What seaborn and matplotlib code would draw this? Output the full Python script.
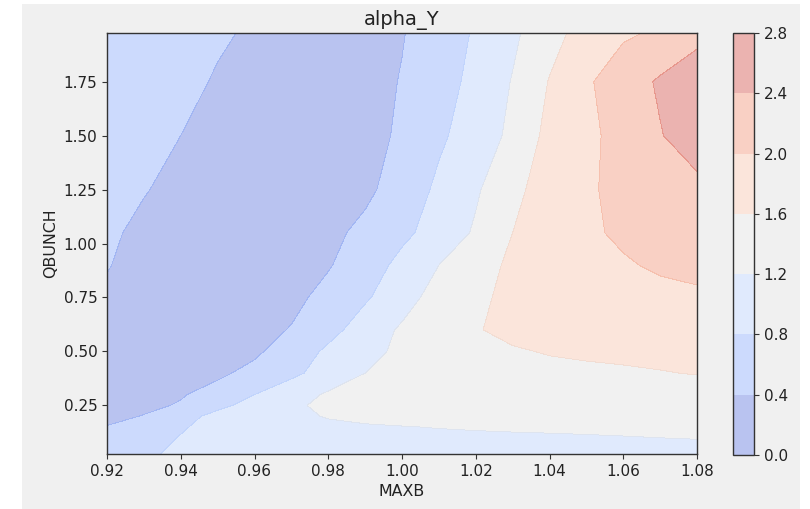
import numpy as np
import pandas as pd
import matplotlib
matplotlib.use("Agg")
import matplotlib.pyplot as plt
import seaborn as sns
from matplotlib.patches import Rectangle

# ---- data ----
maxb = [0.92, 0.93, 0.94, 0.95, 0.96, 0.97, 0.98, 0.99, 1.00,
        1.01, 1.02, 1.03, 1.04, 1.05, 1.06, 1.07, 1.08]
qbunch = [0.025, 0.1, 0.15, 0.2, 0.25, 0.3, 0.4, 0.5, 0.6, 0.75, 0.9, 1.05,
          1.25, 1.5, 1.75, 1.975]

row_0025 = [0.60, 0.75, 0.86, 0.93, 0.98, 1.01, 1.03, 1.04, 1.05, 1.06, 1.06, 1.07, 1.07, 1.08, 1.08, 1.09, 1.10]
row_0100 = [0.46, 0.65, 0.82, 0.95, 1.03, 1.08, 1.10, 1.11, 1.12, 1.14, 1.15, 1.16, 1.17, 1.18, 1.19, 1.20, 1.21]
row_0150 = [0.41, 0.55, 0.76, 0.94, 1.04, 1.10, 1.14, 1.17, 1.19, 1.21, 1.225, 1.235, 1.24, 1.245, 1.25, 1.25, 1.25]
row_0200 = [0.34, 0.41, 0.65, 0.92, 1.05, 1.13, 1.22, 1.27, 1.30, 1.32, 1.33, 1.34, 1.34, 1.34, 1.34, 1.34, 1.33]
row_0250 = [0.32, 0.35, 0.42, 0.70, 0.95, 1.14, 1.28, 1.31, 1.34, 1.37, 1.38, 1.39, 1.40, 1.40, 1.41, 1.41, 1.42]
row_0300 = [0.33, 0.34, 0.38, 0.50, 0.80, 1.02, 1.25, 1.33, 1.38, 1.41, 1.43, 1.45, 1.46, 1.47, 1.48, 1.49, 1.50]
row_0400 = [0.30, 0.27, 0.29, 0.35, 0.48, 0.72, 0.95, 1.20, 1.30, 1.38, 1.44, 1.48, 1.52, 1.55, 1.57, 1.59, 1.61]
row_0500 = [0.32, 0.27, 0.25, 0.27, 0.35, 0.55, 0.88, 1.10, 1.27, 1.40, 1.50, 1.57, 1.62, 1.64, 1.65, 1.66, 1.68]
row_0600 = [0.34, 0.28, 0.25, 0.25, 0.28, 0.42, 0.66, 1.00, 1.25, 1.42, 1.58, 1.68, 1.72, 1.74, 1.76, 1.78, 1.80]
row_0750 = [0.37, 0.30, 0.26, 0.24, 0.24, 0.30, 0.52, 0.75, 1.05, 1.35, 1.52, 1.70, 1.78, 1.83, 1.88, 1.92, 1.95]
row_0900 = [0.41, 0.33, 0.28, 0.25, 0.24, 0.27, 0.37, 0.62, 0.90, 1.20, 1.42, 1.68, 1.80, 1.88, 1.97, 2.04, 2.08]
row_1050 = [0.43, 0.36, 0.31, 0.27, 0.25, 0.26, 0.32, 0.48, 0.72, 0.95, 1.25, 1.60, 1.80, 1.95, 2.05, 2.12, 2.20]
row_1250 = [0.47, 0.41, 0.35, 0.30, 0.27, 0.26, 0.28, 0.33, 0.55, 0.88, 1.15, 1.50, 1.78, 1.95, 2.10, 2.20, 2.30]
row_1500 = [0.52, 0.46, 0.40, 0.34, 0.30, 0.28, 0.28, 0.31, 0.44, 0.73, 1.00, 1.28, 1.72, 1.90, 2.15, 2.38, 2.60]
row_1750 = [0.58, 0.52, 0.46, 0.38, 0.32, 0.30, 0.30, 0.33, 0.41, 0.62, 0.92, 1.22, 1.62, 1.95, 2.20, 2.45, 2.60]
row_1975 = [0.62, 0.55, 0.48, 0.43, 0.37, 0.33, 0.33, 0.35, 0.39, 0.50, 0.86, 1.13, 1.45, 1.77, 1.95, 2.05, 2.30]

levels = [0.0, 0.4, 0.8, 1.2, 1.6, 2.0, 2.4, 2.8]
cbar_ticks = [0.0, 0.4, 0.8, 1.2, 1.6, 2.0, 2.4, 2.8]
x_ticks = [0.92, 0.94, 0.96, 0.98, 1.00, 1.02, 1.04, 1.06, 1.08]
y_ticks = [0.25, 0.50, 0.75, 1.00, 1.25, 1.50, 1.75]

# ---- table ----
rows = [row_0025, row_0100, row_0150, row_0200, row_0250, row_0300, row_0400,
        row_0500, row_0600, row_0750, row_0900, row_1050, row_1250, row_1500,
        row_1750, row_1975]
df = pd.DataFrame(rows, index=qbunch, columns=maxb)

# ---- style ----
sns.set_theme(style="ticks")
plt.rcParams['font.family'] = ['DejaVu Sans']
plt.rcParams.update({
    "axes.edgecolor": "#333333",
    "axes.linewidth": 1.0,
    "xtick.color": "#333333",
    "ytick.color": "#333333",
    "xtick.labelcolor": "#222222",
    "ytick.labelcolor": "#222222",
    "xtick.major.size": 3.5,
    "ytick.major.size": 3.5,
    "xtick.major.width": 0.8,
    "ytick.major.width": 0.8,
})
cmap = sns.color_palette("coolwarm", as_cmap=True)

fig = plt.figure(figsize=(8.10, 5.09), dpi=100, facecolor="white")
fig.patches.append(Rectangle((22 / 810, 0), (800 - 22) / 810, 1 - 4 / 509,
                             transform=fig.transFigure, facecolor="#f0f0f0",
                             edgecolor="none", zorder=-10))

ax = fig.add_axes([107 / 810, 1 - 454 / 509, (697 - 107) / 810, (454 - 33) / 509])
cax = fig.add_axes([733 / 810, 1 - 455 / 509, 21 / 810, (455 - 33) / 509])
ax.set_facecolor("white")

cs = ax.contourf(df.columns.values, df.index.values, df.values,
                 levels=levels, cmap=cmap, alpha=0.4)

ax.set_xticks(x_ticks)
ax.set_xticklabels([f"{v:.2f}" for v in x_ticks], fontsize=11)
ax.set_yticks(y_ticks)
ax.set_yticklabels([f"{v:.2f}" for v in y_ticks], fontsize=11)
ax.set_xlabel("MAXB", fontsize=11.4, labelpad=4, color="#222222")
ax.set_ylabel("QBUNCH", fontsize=11.4, labelpad=4, color="#222222")
ax.set_title("alpha_Y", fontsize=14, pad=6, color="#222222")

cb = fig.colorbar(cs, cax=cax, ticks=cbar_ticks)
cb.ax.set_yticklabels([f"{v:.1f}" for v in cbar_ticks], fontsize=11)
cb.outline.set_edgecolor("#333333")
cb.outline.set_linewidth(1.0)

fig.savefig("out.png", dpi=100, facecolor=fig.get_facecolor())
